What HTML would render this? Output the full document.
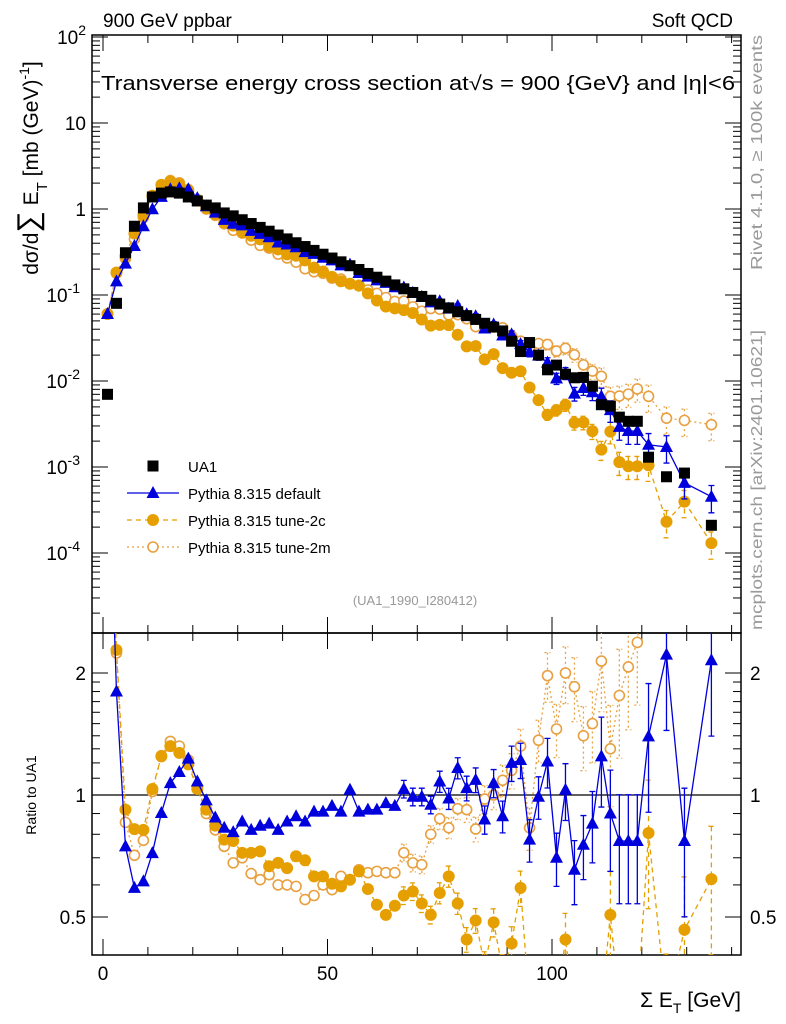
<!DOCTYPE html>
<html><head><meta charset="utf-8"><style>
html,body{margin:0;padding:0;background:#fff;width:786px;height:1024px;overflow:hidden}
svg{display:block;font-family:"Liberation Sans",sans-serif}
</style></head><body>
<svg id="c" width="786" height="1024" viewBox="0 0 786 1024" xmlns="http://www.w3.org/2000/svg">
<defs>
<clipPath id="cm"><rect x="92" y="35" width="649" height="598"/></clipPath>
<clipPath id="cr"><rect x="92" y="633" width="649" height="322"/></clipPath>
</defs>
<text x="103" y="27" font-size="19">900 GeV ppbar</text>
<text x="733" y="27" font-size="19" text-anchor="end">Soft QCD</text>
<text x="101" y="90" font-size="20" textLength="634" lengthAdjust="spacingAndGlyphs">Transverse energy cross section at√s = 900 {GeV} and |η|&lt;6</text>
<text transform="translate(38,168) rotate(-90)" font-size="21" text-anchor="middle">dσ/d<tspan font-size="30">∑</tspan> E<tspan font-size="15" dy="9">T</tspan><tspan dy="-9"> [mb (GeV)</tspan><tspan font-size="14" dy="-9">-1</tspan><tspan dy="9">]</tspan></text>
<text transform="translate(36,795) rotate(-90)" font-size="14" text-anchor="middle">Ratio to UA1</text>
<text transform="translate(762,270) rotate(-90)" font-size="16" fill="#999" textLength="235" lengthAdjust="spacingAndGlyphs">Rivet 4.1.0, ≥ 100k events</text>
<text transform="translate(762,630) rotate(-90)" font-size="16" fill="#999" textLength="300" lengthAdjust="spacingAndGlyphs">mcplots.cern.ch [arXiv:2401.10621]</text>
<text x="415" y="605" font-size="13" fill="#999" text-anchor="middle">(UA1_1990_I280412)</text>
<text x="741" y="1007" font-size="21" text-anchor="end">Σ E<tspan font-size="14" dy="6">T</tspan><tspan dy="-6"> [GeV]</tspan></text>
<g id="axes"></g>
<g id="main" clip-path="url(#cm)"></g>
<g id="ratio" clip-path="url(#cr)"></g>
<g id="legend"></g>
</svg>
<script>
const xVals=[1,3,5,7,9,11,13,15,17,19,21,23,25,27,29,31,33,35,37,39,41,43,45,47,49,51,53,55,57,59,61,63,65,67,69,71,73,75,77,79,81,83,85,87,89,91,93,95,97,99,101,103,105,107,109,111,113,115,117,119,121.5,125.5,129.5,135.5];
const ua1=[0.007,0.08,0.31,0.63,1.03,1.38,1.53,1.58,1.53,1.38,1.24,1.11,1.03,0.9,0.832,0.750,0.678,0.611,0.552,0.498,0.449,0.405,0.366,0.330,0.298,0.269,0.243,0.219,0.198,0.178,0.161,0.145,0.131,0.118,0.107,0.0962,0.0869,0.0784,0.0708,0.0638,0.0575,0.0520,0.0469,0.0424,0.0382,0.029,0.022,0.028,0.02,0.0135,0.0153,0.012,0.0109,0.011,0.0087,0.0053,0.0051,0.0038,0.0034,0.0034,0.0013,0.00077,0.00085,0.00021];
const ratioDefault=[8.6,1.80,0.747,0.59,0.612,0.719,0.903,1.07,1.14,1.23,1.08,0.97,0.88,0.83,0.81,0.86,0.82,0.84,0.85,0.82,0.86,0.886,0.86,0.91,0.91,0.94,0.91,1.03,0.91,0.92,0.92,0.955,0.94,1.035,0.99,0.99,0.946,1.08,0.98,1.166,1.04,1.09,0.87,1.07,0.886,1.2,1.22,0.776,0.99,1.21,0.70,1.03,0.654,0.754,0.85,1.245,0.9,0.77,0.77,0.77,1.395,2.22,0.77,2.15];
const ratio2c=[8.6,2.28,0.92,0.824,0.82,1.035,1.245,1.32,1.27,1.19,1.035,0.92,0.84,0.776,0.77,0.72,0.72,0.726,0.667,0.68,0.66,0.706,0.69,0.63,0.63,0.604,0.595,0.618,0.648,0.586,0.536,0.506,0.533,0.565,0.578,0.54,0.506,0.573,0.63,0.54,0.44,0.49,0.38,0.485,0.37,0.43,0.59,0.3,0.3,0.3,0.3,0.44,0.3,0.3,0.3,0.3,0.506,0.3,0.3,0.3,0.806,0.3,0.465,0.62];
const ratio2m=[8.6,2.24,0.856,0.71,0.773,1.02,1.25,1.356,1.32,1.22,1.04,0.90,0.82,0.747,0.68,0.70,0.64,0.618,0.636,0.6,0.6,0.595,0.552,0.565,0.6,0.584,0.63,0.618,0.654,0.643,0.648,0.643,0.643,0.72,0.68,0.673,0.80,0.874,0.83,0.925,0.92,0.824,0.977,1.0,1.087,1.15,1.32,0.83,1.365,1.97,1.455,2.0,1.85,1.40,1.50,2.14,1.3,1.76,2.07,2.38,5.1,4.8,4.1,14.8];
const relErr=[0.02,0.02,0.02,0.02,0.02,0.02,0.02,0.02,0.02,0.02,0.02,0.02,0.02,0.02,0.02,0.02,0.02,0.02,0.02,0.02,0.02,0.02,0.02,0.02,0.02,0.02,0.02,0.03,0.03,0.03,0.04,0.04,0.04,0.05,0.05,0.05,0.05,0.06,0.06,0.06,0.07,0.07,0.08,0.08,0.09,0.1,0.1,0.12,0.12,0.14,0.15,0.16,0.18,0.18,0.2,0.25,0.28,0.3,0.3,0.3,0.35,0.35,0.35,0.35];
const xTicks=[0,50,100];
const mainTickExp=[2,1,0,-1,-2,-3,-4];
const ratioTicks=[2,1,0.5];

const NS="http://www.w3.org/2000/svg";
const X=v=>103+v*4.49;
const YM=v=>209-86*Math.log10(v);
const YR=v=>795-122*Math.log2(v);
function mk(parent,tag,attrs){const e=document.createElementNS(NS,tag);for(const k in attrs)e.setAttribute(k,attrs[k]);parent.appendChild(e);return e;}
const ax=document.getElementById('axes');
let f1=mk(ax,'rect',{x:92,y:35,width:649,height:598,fill:'none',stroke:'#000','stroke-width':1.5});


let f2=mk(ax,'rect',{x:92,y:633,width:649,height:322,fill:'none',stroke:'#000','stroke-width':1.5});


for(let v=0;v<=140;v+=10){const major=v%50===0;const L=major?16:8;const x=X(v);
 for(const [y0,dir] of [[35,1],[633,-1],[633,1],[955,-1]]){
  const t=mk(ax,'line',{x1:x,x2:x,y1:y0,y2:y0+dir*L,stroke:'#000','stroke-width':1});
  
  }}
xTicks.forEach(v=>{const t=mk(ax,'text',{x:X(v),y:980,'font-size':19,'text-anchor':'middle'});t.textContent=v;
 
 });
for(let e=-5;e<=2;e++){for(let m=1;m<=9;m++){const v=m*Math.pow(10,e);const y=YM(v);if(y<35||y>633)continue;const L=m===1?16:8;
 for(const [x0,dir] of [[92,1],[741,-1]]){const t=mk(ax,'line',{x1:x0,x2:x0+dir*L,y1:y,y2:y,stroke:'#000','stroke-width':1});
  
  }}}
mainTickExp.forEach(e=>{const y=YM(Math.pow(10,e));const t=mk(ax,'text',{x:e<0?80:86,y:y+7,'font-size':19,'text-anchor':'end'});
 if(e===0)t.textContent='1';else if(e===1)t.textContent='10';else{t.textContent='10';const s=mk(t,'tspan',{dy:-9,'font-size':14});s.textContent=e;}
 
 });
[0.5,0.6,0.7,0.8,0.9,1,2].concat([1.1,1.2,1.3,1.4,1.5,1.6,1.7,1.8,1.9]).forEach(v=>{const y=YR(v);const L=(v===0.5||v===1||v===2)?16:8;
 for(const [x0,dir] of [[92,1],[741,-1]]){const t=mk(ax,'line',{x1:x0,x2:x0+dir*L,y1:y,y2:y,stroke:'#000','stroke-width':1});
  
  }});
ratioTicks.forEach(v=>{const y=YR(v)+7;
 const a=mk(ax,'text',{x:86,y:y,'font-size':19,'text-anchor':'end'});a.textContent=v;
 
 
 const b=mk(ax,'text',{x:750,y:y,'font-size':19});b.textContent=v;
 
 });
const one=mk(document.getElementById('ratio'),'line',{x1:92,x2:741,y1:YR(1),y2:YR(1),stroke:'#000','stroke-width':1.2});



function marker(g,type,x,y,color){let m;
 if(type==='square')m=mk(g,'rect',{x:x-5.5,y:y-5.5,width:11,height:11,fill:color});
 else if(type==='tri')m=mk(g,'polygon',{points:`${x},${y-7} ${x-6.5},${y+5} ${x+6.5},${y+5}`,fill:color});
 else if(type==='dot')m=mk(g,'circle',{cx:x,cy:y,r:6,fill:color});
 else m=mk(g,'circle',{cx:x,cy:y,r:5,fill:'#fff',stroke:color,'stroke-width':1.6});
 return m;}
const series=[
 {name:'default',ratio:ratioDefault,color:'#0000dd',type:'tri',dash:''},
 {name:'tune-2c',ratio:ratio2c,color:'#e69f00',type:'dot',dash:'5,4'},
 {name:'tune-2m',ratio:ratio2m,color:'#e8a040',type:'open',dash:'2,3'}];
const gm=document.getElementById('main'),gr=document.getElementById('ratio');
[...series].reverse().forEach(s=>{
 const vals=ua1.map((u,i)=>u*s.ratio[i]);
 const pm=vals.map((v,i)=>X(xVals[i])+','+YM(v)).join(' ');
 const l1=mk(gm,'polyline',{points:pm,fill:'none',stroke:s.color,'stroke-width':1.3,'stroke-dasharray':s.dash});
 
 
 const pr=s.ratio.map((v,i)=>X(xVals[i])+','+YR(v)).join(' ');
 const l2=mk(gr,'polyline',{points:pr,fill:'none',stroke:s.color,'stroke-width':1.3,'stroke-dasharray':s.dash});
 
 
 vals.forEach((v,i)=>{const x=X(xVals[i]);const e=relErr[i];
  if(e>0.04){
   const y1=YM(v*(1+e)),y2=YM(Math.max(v*(1-e),1e-9));
   const eb=mk(gm,'path',{d:`M${x},${y1}V${y2}M${x-3},${y1}h6M${x-3},${y2}h6`,stroke:s.color,'stroke-width':1.3,fill:'none','stroke-dasharray':s.dash});
   
   
   const r=s.ratio[i];const r1=YR(r*(1+e)),r2=YR(r*(1-e));
   const eb2=mk(gr,'path',{d:`M${x},${r1}V${r2}M${x-3},${r1}h6M${x-3},${r2}h6`,stroke:s.color,'stroke-width':1.3,fill:'none','stroke-dasharray':s.dash});
   
   }
  const m=marker(gm,s.type,x,YM(v),s.color);
  
  
  const m2=marker(gr,s.type,x,YR(s.ratio[i]),s.color);
  
  });
});
ua1.forEach((v,i)=>{const m=marker(gm,'square',X(xVals[i]),YM(v),'#000');
 
 });
const lg=document.getElementById('legend');
const items=[{label:'UA1',type:'square',color:'#000',dash:null,y:466},{label:'Pythia 8.315 default',type:'tri',color:'#0000dd',dash:'',y:493},{label:'Pythia 8.315 tune-2c',type:'dot',color:'#e69f00',dash:'5,4',y:520},{label:'Pythia 8.315 tune-2m',type:'open',color:'#e8a040',dash:'2,3',y:547}];
items.forEach(it=>{const g=mk(lg,'g',{});
 
 
 if(it.dash!==null)mk(g,'line',{x1:127,x2:179,y1:it.y,y2:it.y,stroke:it.color,'stroke-width':1.3,'stroke-dasharray':it.dash});
 marker(g,it.type,153,it.y,it.color);
 const t=mk(g,'text',{x:188,y:it.y+6,'font-size':15});t.textContent=it.label;});
</script>
</body></html>
